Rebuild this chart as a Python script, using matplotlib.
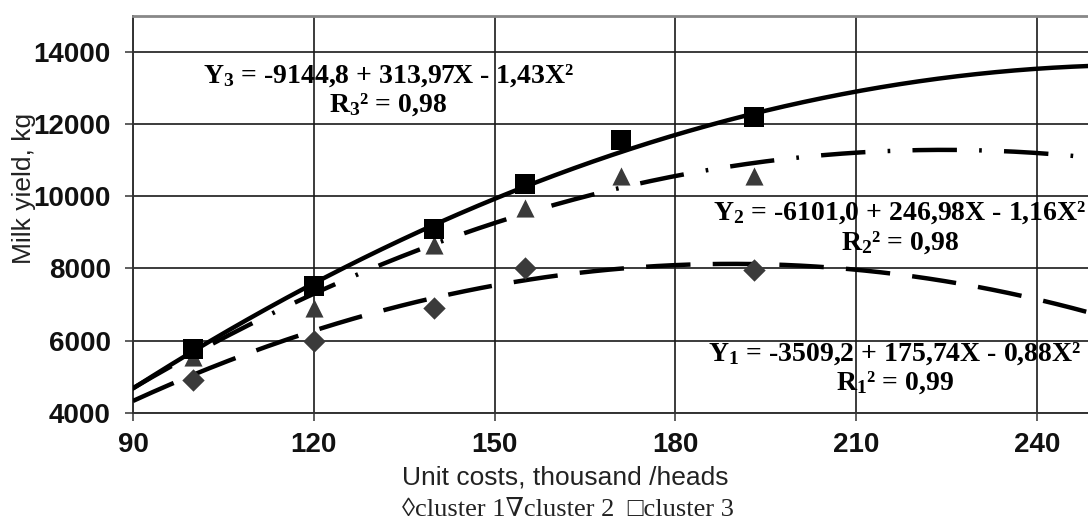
import numpy as np
import matplotlib
matplotlib.use("Agg")
import matplotlib.pyplot as plt

# ---- data ----
x_c1 = [100, 120, 140, 155, 193]
y_c1 = [4900, 6000, 6900, 8000, 7970]
x_c2 = [100, 120, 140, 155, 171, 193]
y_c2 = [5550, 6900, 8650, 9680, 10550, 10570]
x_c3 = [100, 120, 140, 155, 171, 193]
y_c3 = [5780, 7520, 9100, 10350, 11550, 12200]

# trend-line heights at the vertical gridlines
x_trend = [90, 120, 150, 180, 210, 240]
trend_c1 = [4350, 6230, 7530, 8110, 7980, 7130]
trend_c2 = [4680, 7300, 9260, 10540, 11240, 11190]
trend_c3 = [4720, 7500, 9940, 11710, 12960, 13500]

x_ticks = [90, 120, 150, 180, 210, 240]
y_ticks = [4000, 6000, 8000, 10000, 12000, 14000]

eq3 = ["Y$_3$ = -9144,8 + 313,97X - 1,43X\u00b2", "R$_3$\u00b2 = 0,98"]
eq2 = ["Y$_2$ = -6101,0 + 246,98X - 1,16X\u00b2", "R$_2$\u00b2 = 0,98"]
eq1 = ["Y$_1$ = -3509,2 + 175,74X - 0,88X\u00b2", "R$_1$\u00b2 = 0,99"]

xlabel = "Unit costs, thousand /heads"
ylabel = "Milk yield, kg"
legend_text = "\u25cacluster 1\u2207cluster 2  \u25a1cluster 3"

plt.rcParams["mathtext.fontset"] = "custom"
plt.rcParams["mathtext.rm"] = "Liberation Serif:bold"
plt.rcParams["mathtext.it"] = "Liberation Serif:bold"
plt.rcParams["mathtext.bf"] = "Liberation Serif:bold"

W, H = 1088, 521
fig = plt.figure(figsize=(W / 100, H / 100), dpi=100)
ax = fig.add_axes([133 / W, 1 - 412.7 / H, 1 - 133 / W, (412.7 - 16) / H])

xmin, xmax = 90, 248.5
ax.set_xlim(xmin, xmax)
ax.set_ylim(4000, 15000)
ax.set_xticks(x_ticks)
ax.set_yticks(y_ticks)
ax.grid(True, color="#1a1a1a", linewidth=1.2)
ax.set_axisbelow(True)

ax.spines["right"].set_visible(False)
ax.spines["top"].set_color("#888888")
ax.spines["top"].set_linewidth(2)
for s in ["left", "bottom"]:
    ax.spines[s].set_color("#333333")
    ax.spines[s].set_linewidth(1.4)

ax.tick_params(axis="both", direction="out", length=6, width=1.1, color="#333333")
ax.tick_params(axis="y", pad=10)
ax.tick_params(axis="x", pad=8)
for lab in ax.get_xticklabels() + ax.get_yticklabels():
    lab.set_fontfamily("Liberation Sans")
    lab.set_fontweight("bold")
    lab.set_fontsize(20)
    lab.set_color("#111111")

xs = np.linspace(xmin, xmax, 300)
# quadratic trend lines fitted to the read trend heights
p1 = np.polyfit(x_trend, trend_c1, 2)
p2 = np.polyfit(x_trend, trend_c2, 2)
p3 = np.polyfit(x_trend, trend_c3, 2)
ax.plot(xs, np.polyval(p1, xs), color="black", lw=3.2,
        dashes=(10, 5), zorder=3)
ax.plot(xs, np.polyval(p2, xs), color="black", lw=3.2,
        dashes=(10, 5, 0.6, 5), zorder=3)
ax.plot(xs, np.polyval(p3, xs), color="black", lw=3.2, zorder=3)

ax.scatter(x_c1, y_c1, marker="D", s=130, color="#3a3a3a", zorder=4, linewidths=0)
ax.scatter(x_c2, y_c2, marker="^", s=170, color="#3a3a3a", zorder=4, linewidths=0)
ax.scatter(x_c3, y_c3, marker="s", s=200, color="black", zorder=5, linewidths=0)

serif = ["Liberation Serif", "DejaVu Serif"]
def eq_block(lines, cx, y1, y2):
    fig.text(cx / W, 1 - y1 / H, lines[0], ha="center", va="center",
             fontsize=20, fontweight="bold", family=serif)
    fig.text(cx / W, 1 - y2 / H, lines[1], ha="center", va="center",
             fontsize=20, fontweight="bold", family=serif)

eq_block(eq3, 388, 76, 105)
eq_block(eq2, 900, 213, 243)
eq_block(eq1, 895, 354, 383)

fig.text(565 / W, 1 - 477 / H, xlabel, ha="center", va="center",
         fontsize=19, family="Liberation Sans", color="#222222")
fig.text(24 / W, 1 - 188 / H, ylabel, ha="center", va="center", rotation=90,
         fontsize=19, family="Liberation Sans", color="#222222")
fig.text(568 / W, 1 - 510 / H, legend_text, ha="center", va="center",
         fontsize=19, family=serif, color="#222222")

fig.savefig("out.png", dpi=100)
